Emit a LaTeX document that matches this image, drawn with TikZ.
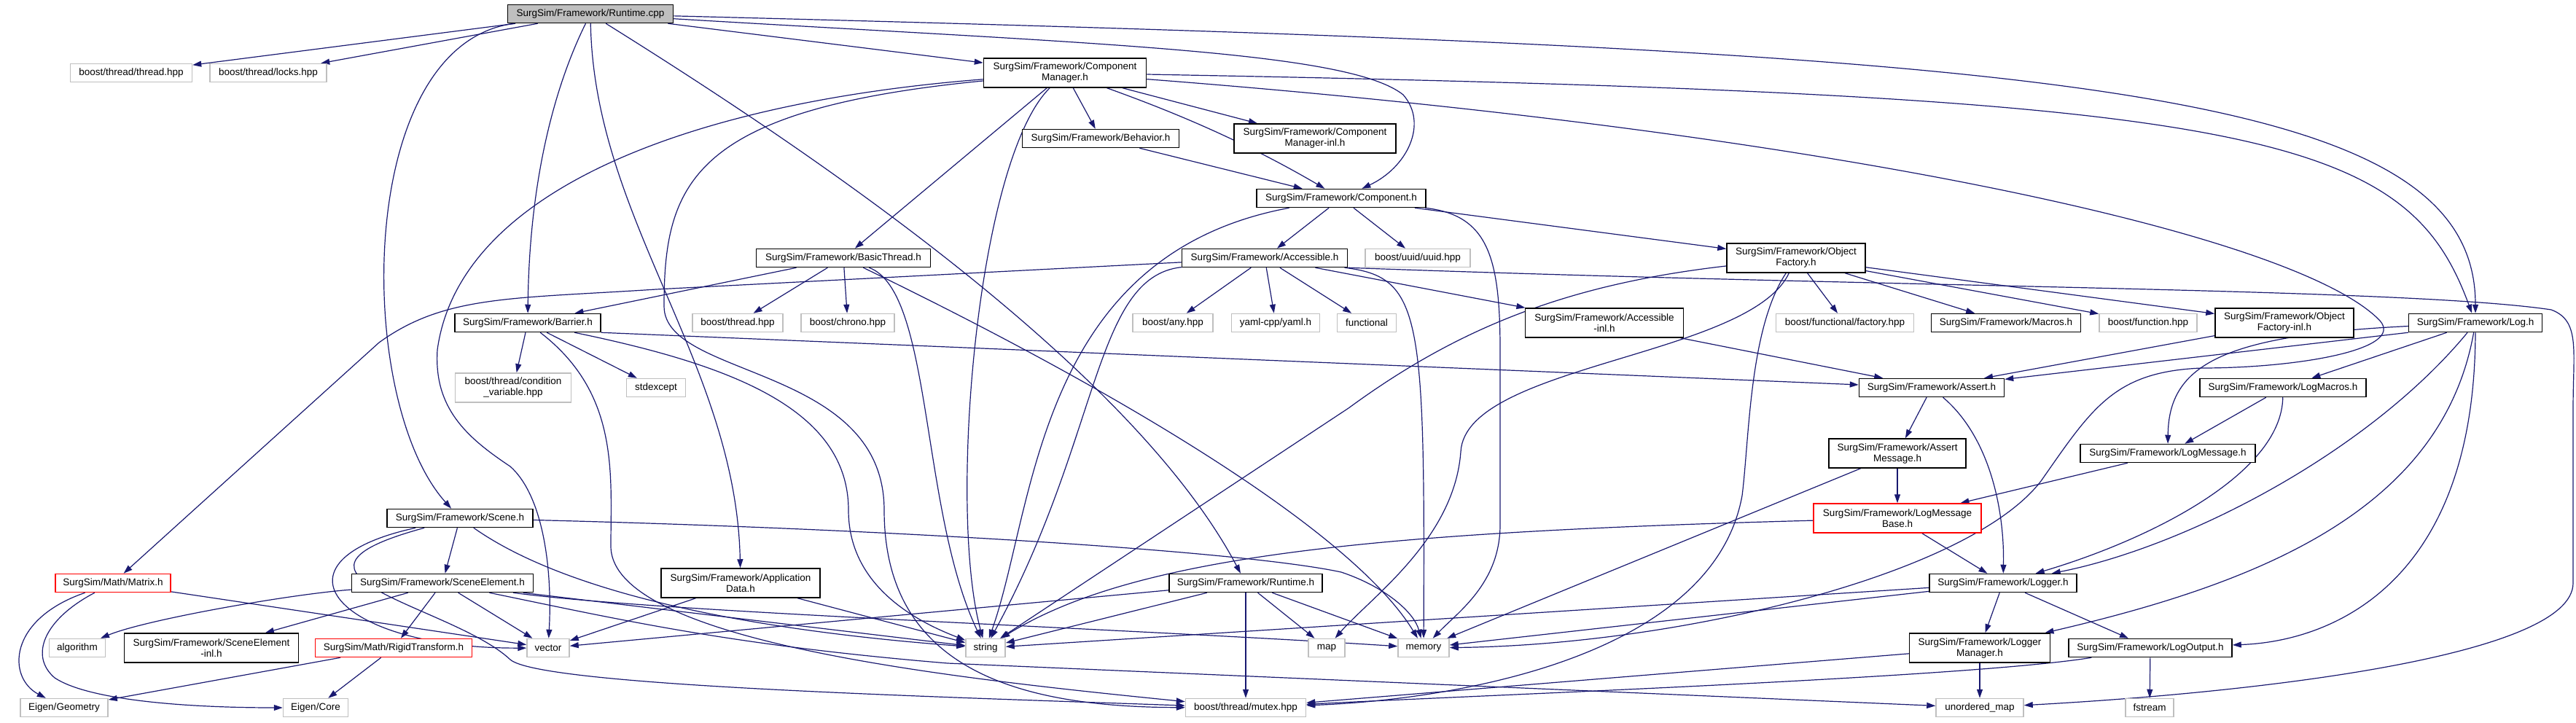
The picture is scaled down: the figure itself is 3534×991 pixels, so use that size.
\documentclass[tikz,border=0pt]{standalone}
\usepackage{fontspec}
\setmainfont{Liberation Sans}
\usetikzlibrary{arrows.meta,backgrounds}
\definecolor{doxblue}{HTML}{191970}
\definecolor{doxgray}{HTML}{BFBFBF}
\newcommand{\doxfont}{\fontsize{13.5}{15}\selectfont}
\newcommand{\inc}[2]{\draw[dep] (#1) -- (#2)}
\newcommand{\incc}[4]{\draw[dep] (#1) .. controls (#2) and (#3) .. (#4)}

\begin{document}
\begin{tikzpicture}[x=1pt,y=-1pt,
	hdr/.style={draw=black, fill=white, line width=1.5pt, minimum height=25pt, inner sep=0pt, align=center, font=\doxfont},
	ext/.style={hdr, draw=doxgray},
	trunc/.style={hdr, draw=red},
	root/.style={hdr, fill=doxgray},
	two/.style={minimum height=40pt},
	dep/.style={draw=doxblue, line width=1.2pt, -{Triangle[length=12pt,width=8pt]}}]
	\useasboundingbox (0,0) rectangle (3534,991);
	\node[root, minimum width=227pt] (root) at (810,19) {SurgSim/Framework/Runtime.cpp};
	\node[ext, minimum width=167pt] (thrd) at (180,100) {boost/thread/thread.hpp};
	\node[ext, minimum width=160pt] (locks) at (368,100) {boost/thread/locks.hpp};
	\node[hdr, two, minimum width=223pt] (cmgr) at (1461,100) {SurgSim/Framework/Component\\Manager.h};
	\node[hdr, minimum width=215pt] (behav) at (1510,190) {SurgSim/Framework/Behavior.h};
	\node[hdr, two, minimum width=222pt] (cmgrinl) at (1804,190) {SurgSim/Framework/Component\\Manager-inl.h};
	\node[hdr, minimum width=232pt] (comp) at (1840,272) {SurgSim/Framework/Component.h};
	\node[hdr, minimum width=239pt] (bthread) at (1157,354) {SurgSim/Framework/BasicThread.h};
	\node[hdr, minimum width=227pt] (acc) at (1735,354) {SurgSim/Framework/Accessible.h};
	\node[ext, minimum width=144pt] (uuid) at (1945,354) {boost/uuid/uuid.hpp};
	\node[hdr, two, minimum width=190pt] (objf) at (2464,354) {SurgSim/Framework/Object\\Factory.h};
	\node[hdr, minimum width=200pt] (barrier) at (724,443) {SurgSim/Framework/Barrier.h};
	\node[ext, minimum width=124pt] (bthr) at (1012,443) {boost/thread.hpp};
	\node[ext, minimum width=128pt] (chrono) at (1163,443) {boost/chrono.hpp};
	\node[ext, minimum width=110pt] (anyh) at (1609,443) {boost/any.hpp};
	\node[ext, minimum width=121pt] (yaml) at (1750,443) {yaml-cpp/yaml.h};
	\node[ext, minimum width=81pt] (functional) at (1875,443) {functional};
	\node[hdr, two, minimum width=217pt] (accinl) at (2201,443) {SurgSim/Framework/Accessible\\-inl.h};
	\node[ext, minimum width=189pt] (factory) at (2531,443) {boost/functional/factory.hpp};
	\node[hdr, minimum width=205pt] (macros) at (2752,443) {SurgSim/Framework/Macros.h};
	\node[ext, minimum width=134pt] (function) at (2947,443) {boost/function.hpp};
	\node[hdr, two, minimum width=190pt] (ofinl) at (3134,443) {SurgSim/Framework/Object\\Factory-inl.h};
	\node[hdr, minimum width=183pt] (logh) at (3396,443) {SurgSim/Framework/Log.h};
	\node[ext, two, minimum width=159pt] (condvar) at (704,532) {boost/thread/condition\\\_variable.hpp};
	\node[ext, minimum width=81pt] (stdexc) at (900,532) {stdexcept};
	\node[hdr, minimum width=199pt] (assert) at (2650,532) {SurgSim/Framework/Assert.h};
	\node[hdr, minimum width=228pt] (logmac) at (3132,532) {SurgSim/Framework/LogMacros.h};
	\node[hdr, two, minimum width=188pt] (assertmsg) at (2603,622) {SurgSim/Framework/Assert\\Message.h};
	\node[hdr, minimum width=240pt] (logmsg) at (2974,622) {SurgSim/Framework/LogMessage.h};
	\node[hdr, minimum width=200pt] (scene) at (631,711) {SurgSim/Framework/Scene.h};
	\node[trunc, two, minimum width=230pt] (lmbase) at (2603,711) {SurgSim/Framework/LogMessage\\Base.h};
	\node[trunc, minimum width=158pt] (matrix) at (155,800) {SurgSim/Math/Matrix.h};
	\node[hdr, minimum width=249pt] (scelem) at (607,800) {SurgSim/Framework/SceneElement.h};
	\node[hdr, two, minimum width=218pt] (appdata) at (1016,800) {SurgSim/Framework/Application\\Data.h};
	\node[hdr, minimum width=210pt] (rtimeh) at (1709,800) {SurgSim/Framework/Runtime.h};
	\node[hdr, minimum width=202pt] (logger) at (2748,800) {SurgSim/Framework/Logger.h};
	\node[ext, minimum width=77pt] (algo) at (106,889) {algorithm};
	\node[hdr, two, minimum width=239pt] (sceinl) at (290,889) {SurgSim/Framework/SceneElement\\-inl.h};
	\node[trunc, minimum width=215pt] (rigid) at (540,889) {SurgSim/Math/RigidTransform.h};
	\node[ext, minimum width=58pt] (vector) at (752,889) {vector};
	\node[ext, minimum width=54pt] (string) at (1352,889) {string};
	\node[ext, minimum width=50pt] (map) at (1820,889) {map};
	\node[ext, minimum width=70pt] (memory) at (1953,889) {memory};
	\node[hdr, two, minimum width=193pt] (lmgr) at (2716,889) {SurgSim/Framework/Logger\\Manager.h};
	\node[hdr, minimum width=224pt] (logout) at (2950,889) {SurgSim/Framework/LogOutput.h};
	\node[ext, minimum width=120pt] (egeo) at (88,971) {Eigen/Geometry};
	\node[ext, minimum width=89pt] (ecore) at (433,971) {Eigen/Core};
	\node[ext, minimum width=165pt] (mutex) at (1709,971) {boost/thread/mutex.hpp};
	\node[ext, minimum width=120pt] (umap) at (2716,971) {unordered\_map};
	\node[ext, minimum width=66pt] (fstream) at (2949,971) {fstream};

	\begin{scope}[on background layer]
	\inc{root}{thrd};
	\inc{root}{locks};
	\inc{root}{cmgr};
	\incc{root}{486,60}{486,550}{scene};
	\incc{root}{760,120}{726,250}{barrier};
	\incc{root}{815,300}{1010,500}{appdata};
	\incc{root}{1100,200}{1550,500}{rtimeh};
	\draw[dep] (root) .. controls (1500,60) and (1850,70) .. (1925,130) .. controls (1960,170) and (1930,230) .. (comp);
	\incc{root}{2800,70}{3396,110}{logh};

	\inc{cmgr}{behav};
	\inc{cmgr}{cmgrinl};
	\incc{cmgr}{1600,150}{1700,190}{comp};
	\inc{cmgr}{bthread};
	\incc{cmgr}{1340,220}{1300,700}{string};
	\draw[dep] (cmgr) .. controls (950,140) and (630,260) .. (600,480) .. controls (595,560) and (640,600) .. (700,640) .. controls (745,680) and (758,780) .. (vector);
	\draw[dep] (cmgr) .. controls (950,150) and (911,250) .. (911,420) .. controls (911,520) and (1213,500) .. (1213,700) .. controls (1213,920) and (1400,970) .. (mutex);
	\incc{cmgr}{3100,130}{3300,180}{logh};
	\draw[dep] (cmgr) .. controls (2500,180) and (3150,320) .. (3265,440) .. controls (3300,480) and (3150,505) .. (3020,505) .. controls (2900,510) and (2870,560) .. (2800,660) .. controls (2700,790) and (2300,885) .. (memory);

	\inc{behav}{comp};

	\inc{comp}{acc};
	\inc{comp}{uuid};
	\inc{comp}{objf};
	\incc{comp}{1420,350}{1420,700}{string};
	\draw[dep] (comp) .. controls (2040,295) and (2058,350) .. (2058,480) -- (2058,720) .. controls (2058,800) and (2000,840) .. (memory);

	\inc{bthread}{barrier};
	\inc{bthread}{bthr};
	\inc{bthread}{chrono};
	\incc{bthread}{1280,400}{1262,700}{string};
	\incc{bthread}{1500,520}{1850,720}{memory};

	\draw[dep] (acc) -- (900,397) .. controls (700,410) and (610,405) .. (520,470) -- (matrix);
	\inc{acc}{anyh};
	\inc{acc}{yaml};
	\inc{acc}{functional};
	\inc{acc}{accinl};
	\incc{acc}{1500,380}{1510,600}{string};
	\incc{acc}{1950,380}{1955,430}{memory};
	\draw[dep] (acc.south east) .. controls (2600,395) and (3300,395) .. (3500,425) .. controls (3540,440) and (3530,480) .. (3530,560) -- (3530,800) .. controls (3530,900) and (3100,950) .. (umap);

	\draw[dep] (objf) .. controls (2150,390) and (2000,450) .. (1850,560) -- (string);
	\draw[dep] (objf) .. controls (2400,490) and (2010,500) .. (2004,620) .. controls (1995,740) and (1880,820) .. (map);
	\draw[dep] (objf) .. controls (2400,450) and (2400,600) .. (2390,680) .. controls (2350,900) and (2000,960) .. (mutex);
	\inc{objf}{factory};
	\inc{objf}{macros};
	\inc{objf}{function};
	\inc{objf}{ofinl};

	\inc{accinl}{assert};
	\inc{ofinl}{assert};

	\draw[dep] (logh.south west) -- (assert);
	\inc{logh}{logmac};
	\incc{logh}{3050,460}{2975,500}{logmsg};
	\incc{logh}{3250,620}{3000,750}{logger};
	\incc{logh}{3350,700}{3100,800}{lmgr};
	\incc{logh}{3395,800}{3200,880}{logout};

	\inc{barrier}{condvar};
	\inc{barrier}{stdexc};
	\draw[dep] (barrier.south east) -- (assert);
	\draw[dep] (barrier) .. controls (1000,500) and (1164,560) .. (1164,700) .. controls (1164,800) and (1250,850) .. (string);
	\draw[dep] (barrier) .. controls (850,540) and (838,650) .. (838,750) .. controls (840,880) and (1300,930) .. (mutex);

	\inc{scene}{scelem};
	\incc{scene}{360,770}{460,890}{vector};
	\draw[dep] (scene) .. controls (340,790) and (620,830) .. (700,905) .. controls (740,940) and (1250,955) .. (mutex);
	\incc{scene}{800,830}{1100,870}{string};
	\draw[dep] (scene) .. controls (1200,725) and (1700,755) .. (1840,785) .. controls (1900,805) and (1940,840) .. (memory);

	\incc{scelem}{400,815}{200,850}{algo};
	\inc{scelem}{sceinl};
	\inc{scelem}{rigid};
	\inc{scelem}{vector};
	\inc{scelem}{string};
	\incc{scelem}{900,840}{1500,860}{memory};
	\draw[dep] (scelem) .. controls (850,850) and (1000,885) .. (1300,910) -- (umap);

	\incc{matrix}{10,850}{10,930}{egeo};
	\draw[dep] (matrix) .. controls (60,850) and (40,900) .. (75,930) .. controls (120,960) and (250,971) .. (ecore);
	\inc{matrix}{vector};

	\inc{rigid}{egeo};
	\inc{rigid}{ecore};

	\inc{appdata}{string};
	\inc{appdata}{vector};

	\inc{rtimeh}{vector};
	\inc{rtimeh}{string};
	\inc{rtimeh}{mutex};
	\inc{rtimeh}{map};
	\inc{rtimeh}{memory};

	\inc{assert}{assertmsg};
	\incc{assert}{2730,600}{2750,700}{logger};
	\inc{assertmsg}{lmbase};
	\inc{assertmsg}{memory};
	\inc{lmbase}{logger};
	\incc{lmbase}{1900,730}{1560,760}{string};
	\inc{logmsg}{lmbase};
	\inc{logmac}{logmsg};
	\incc{logmac}{3130,650}{2950,740}{logger};

	\inc{logger}{lmgr};
	\inc{logger}{logout};
	\inc{logger}{memory};
	\inc{logger}{string};
	\inc{lmgr}{mutex};
	\inc{lmgr}{umap};
	\inc{logout}{fstream};
	\incc{logout}{2700,930}{2000,955}{mutex};
	\end{scope}
\end{tikzpicture}
\end{document}
